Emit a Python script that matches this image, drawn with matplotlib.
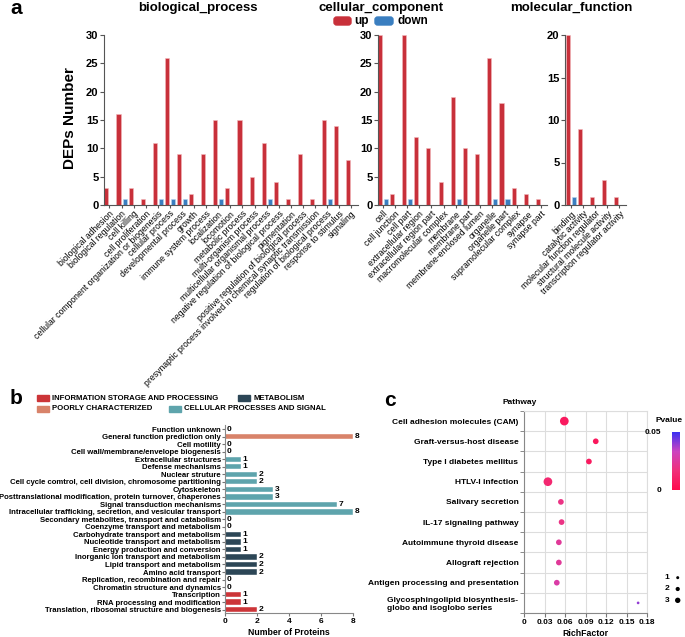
import numpy as np
import matplotlib
matplotlib.use("Agg")
import matplotlib.pyplot as plt
from matplotlib.colors import LinearSegmentedColormap
from matplotlib.patches import Rectangle, FancyBboxPatch

plt.rcParams['font.family'] = ['Liberation Sans', 'DejaVu Sans']

# ---- data: panel a (GO) ----
bp_labels = ["biological adhesion", "biological regulation", "cell killing", "cell proliferation",
             "cellular component organization or biogenesis", "cellular process",
             "developmental process", "growth", "immune system process", "localization",
             "locomotion", "metabolic process", "multi-organism process",
             "multicellular organismal process", "negative regulation of biological process",
             "pigmentation", "positive regulation of biological process",
             "presynaptic process involved in chemical synaptic transmission",
             "regulation of biological process", "response to stimulus", "signaling"]
bp_up = [3, 16, 3, 1, 11, 26, 9, 2, 9, 15, 3, 15, 5, 11, 4, 1, 9, 1, 15, 14, 8]
bp_down = [0, 1, 0, 0, 1, 1, 1, 0, 0, 1, 0, 0, 0, 1, 0, 0, 0, 0, 1, 0, 0]

cc_labels = ["cell", "cell junction", "cell part", "extracellular region",
             "extracellular region part", "macromolecular complex", "membrane", "membrane part",
             "membrane-enclosed lumen", "organelle", "organelle part", "supramolecular complex",
             "synapse", "synapse part"]
cc_up = [30, 2, 30, 12, 10, 4, 19, 10, 9, 26, 18, 3, 2, 1]
cc_down = [1, 0, 1, 0, 0, 0, 1, 0, 0, 1, 1, 0, 0, 0]

mf_labels = ["binding", "catalytic activity", "molecular function regulator",
             "structural molecule activity", "transcription regulator activity"]
mf_up = [20, 9, 1, 3, 1]
mf_down = [1, 0, 0, 0, 0]

# ---- data: panel b (KOG) ----
kog_labels = ["Function unknown", "General function prediction only", "Cell motility",
              "Cell wall/membrane/envelope biogenesis", "Extracellular structures",
              "Defense mechanisms", "Nuclear struture",
              "Cell cycle comtrol, cell division, chromosome partitioning", "Cytoskeleton",
              "Posttranslational modification, protein turnover, chaperones",
              "Signal transduction mechanisms",
              "Intracellular trafficking, secretion, and vesicular transport",
              "Secondary metabolites, transport and catabolism",
              "Coenzyme transport and metabolism", "Carbohydrate transport and metabolism",
              "Nucleotide transport and metabolism", "Energy production and conversion",
              "Inorganic ion transport and metabolism", "Lipid transport and metabolism",
              "Amino acid transport", "Replication, recombination and repair",
              "Chromatin structure and dynamics", "Transcription",
              "RNA processing and modification", "Translation, ribosomal structure and biogenesis"]
kog_values = [0, 8, 0, 0, 1, 1, 2, 2, 3, 3, 7, 8, 0, 0, 1, 1, 1, 2, 2, 2, 0, 0, 1, 1, 2]
kog_groups = ["P", "P", "C", "C", "C", "C", "C", "C", "C", "C", "C", "C",
              "M", "M", "M", "M", "M", "M", "M", "M", "I", "I", "I", "I", "I"]
group_names = {"I": "INFORMATION STORAGE AND PROCESSING", "M": "METABOLISM",
               "P": "POORLY CHARACTERIZED", "C": "CELLULAR PROCESSES AND SIGNAL"}
group_colors = {"I": "#cc3538", "M": "#2c4656", "P": "#d8836a", "C": "#5ea4ac"}

# ---- data: panel c (KEGG) ----
path_labels = ["Cell adhesion molecules (CAM)", "Graft-versus-host disease",
               "Type I diabetes mellitus", "HTLV-I infection", "Salivary secretion",
               "IL-17 signaling pathway", "Autoimmune thyroid disease", "Allograft rejection",
               "Antigen processing and presentation",
               "Glycosphingolipid biosynthesis-\nglobo and isoglobo series"]
rich = [0.059, 0.105, 0.095, 0.035, 0.054, 0.055, 0.051, 0.051, 0.048, 0.167]
counts = [3, 2, 2, 3, 2, 2, 2, 2, 2, 1]
pvals = [0.007, 0.006, 0.007, 0.013, 0.019, 0.019, 0.024, 0.024, 0.027, 0.040]

W, H = 685, 637
fig = plt.figure(figsize=(W / 100, H / 100), dpi=100)


def box(l, t, r, b):
    return [l / W, 1 - b / H, (r - l) / W, (b - t) / H]


red = "#c8303a"
blue = "#3a7ec0"

# ---------------- panel a ----------------
panels = [
    (box(104, 35, 358, 205), bp_labels, bp_up, bp_down, 30, (-0.45, 20.55)),
    (box(378, 35, 547, 205), cc_labels, cc_up, cc_down, 30, (-0.39, 13.49)),
    (box(565, 35, 626, 205), mf_labels, mf_up, mf_down, 20, (-0.52, 4.55)),
]
for pos, labels, up, down, ymax, xl in panels:
    ax = fig.add_axes(pos)
    x = np.arange(len(labels))
    ax.bar(x - 0.25, up, 0.34, color=red, edgecolor="#f2b8bc", linewidth=0.4)
    ax.bar(x + 0.25, down, 0.34, color=blue, edgecolor="#b8d4ef", linewidth=0.4)
    ax.set_xlim(*xl)
    ax.set_ylim(0, ymax)
    ax.set_yticks(np.arange(0, ymax + 1, 5))
    ax.set_xticks(x)
    ax.set_xticklabels(labels, rotation=45, ha="right", rotation_mode="anchor", fontsize=6.2)
    for s in ["top", "right"]:
        ax.spines[s].set_visible(False)
    for s in ["left", "bottom"]:
        ax.spines[s].set_color("#555555")
        ax.spines[s].set_linewidth(0.8)
    ax.tick_params(axis="y", labelsize=8, length=3, pad=1, color="#555555")
    ax.tick_params(axis="x", length=2, pad=1, color="#555555")
    for t in ax.get_yticklabels():
        t.set_fontweight("bold")

for tx, txt in [(198, "biological_process"), (381, "cellular_component"),
                (571, "molecular_function")]:
    fig.text(tx / W, 1 - 8 / H, txt, ha="center", va="center", fontsize=9.5,
             fontweight="bold")
fig.text(70 / W, 1 - 118 / H, "DEPs Number", rotation=90, ha="center", va="center",
         fontsize=11, fontweight="bold")
fig.text(10 / W, 1 - 9 / H, "a", ha="left", va="center", fontsize=15, fontweight="bold")

# up/down legend
fig.patches.append(FancyBboxPatch((334 / W, 1 - 25 / H), 17 / W, 8 / H,
                                  boxstyle="round,pad=0,rounding_size=0.004",
                                  transform=fig.transFigure, color=red))
fig.text(354 / W, 1 - 21 / H, "up", ha="left", va="center", fontsize=8.5, fontweight="bold")
fig.patches.append(FancyBboxPatch((375 / W, 1 - 25 / H), 18 / W, 8 / H,
                                  boxstyle="round,pad=0,rounding_size=0.004",
                                  transform=fig.transFigure, color=blue))
fig.text(397 / W, 1 - 21 / H, "down", ha="left", va="center", fontsize=8.5, fontweight="bold")

# ---------------- panel b ----------------
fig.text(10 / W, 1 - 398 / H, "b", ha="left", va="center", fontsize=15, fontweight="bold")
leg_items = [("I", 37, 398), ("M", 238, 398), ("P", 37, 409), ("C", 169, 409)]
for g, lx, ly in leg_items:
    fig.patches.append(Rectangle((lx / W, 1 - (ly + 3) / H), 12 / W, 6 / H,
                                 transform=fig.transFigure, color=group_colors[g]))
    fig.text((lx + 15) / W, 1 - ly / H, group_names[g], ha="left", va="center",
             fontsize=5.6, fontweight="bold")

axb = fig.add_axes(box(225, 425, 353, 613))
yb = np.arange(len(kog_labels))
axb.barh(yb, kog_values, height=0.72, color=[group_colors[g] for g in kog_groups],
         edgecolor="white", linewidth=0.3)
for yi, v in zip(yb, kog_values):
    axb.text(v + 0.12, yi, str(v), ha="left", va="center", fontsize=6, fontweight="bold")
axb.set_ylim(24.45, -0.55)
axb.set_xlim(0, 8)
axb.set_yticks(yb)
axb.set_yticklabels(kog_labels, fontsize=5.6, fontweight="bold")
axb.set_xticks([0, 2, 4, 6, 8])
axb.tick_params(axis="y", length=2, pad=1, color="#777777")
axb.tick_params(axis="x", labelsize=6, length=2, pad=1.5, color="#777777")
for t in axb.get_xticklabels():
    t.set_fontweight("bold")
for s in ["top", "right"]:
    axb.spines[s].set_visible(False)
for s in ["left", "bottom"]:
    axb.spines[s].set_color("#888888")
    axb.spines[s].set_linewidth(0.8)
axb.set_xlabel("Number of Proteins", fontsize=6.3, fontweight="bold", labelpad=2)

# ---------------- panel c ----------------
fig.text(390 / W, 1 - 400 / H, "c", ha="center", va="center", fontsize=15, fontweight="bold")
fig.text(520 / W, 1 - 402 / H, "Pathway", ha="center", va="center", fontsize=6,
         fontweight="bold")

cmap = LinearSegmentedColormap.from_list("pv", ["#ff0a4c", "#f0307a", "#cc44c0", "#3a30f2"])
axc = fig.add_axes(box(524, 411, 647, 613))
yc = np.arange(len(path_labels))
sizes = [(0.72 * (3 * c - 0.3)) ** 2 for c in counts]
axc.scatter(rich, yc, s=sizes, c=pvals, cmap=cmap, vmin=0, vmax=0.05, zorder=3,
            linewidths=0)
axc.set_xlim(0, 0.18)
axc.set_ylim(9.5, -0.5)
xt = [0, 0.03, 0.06, 0.09, 0.12, 0.15, 0.18]
axc.set_xticks(xt)
axc.set_xticklabels(["0"] + [f"{v:.2f}" for v in xt[1:]], fontsize=6, fontweight="bold")
axc.set_yticks(yc)
axc.set_yticklabels(path_labels, fontsize=6, fontweight="bold", multialignment="left")
axc.set_yticks(np.arange(-0.5, 10, 1), minor=True)
axc.tick_params(axis="y", which="major", length=0, pad=4)
axc.tick_params(axis="y", which="minor", length=3, color="#777777")
axc.tick_params(axis="x", length=3, pad=1.5, color="#777777")
axc.grid(True, axis="x", which="major", color="#dddddd", linewidth=0.8)
axc.grid(True, axis="y", which="minor", color="#dddddd", linewidth=0.8)
axc.set_axisbelow(True)
for s in ["top", "right"]:
    axc.spines[s].set_color("#dddddd")
for s in ["left", "bottom"]:
    axc.spines[s].set_color("#888888")
axc.set_xlabel("RichFactor", fontsize=6.3, fontweight="bold", labelpad=2)

# colorbar
cax = fig.add_axes(box(672, 432, 680, 490))
sm = plt.cm.ScalarMappable(cmap=cmap, norm=plt.Normalize(0, 0.05))
cb = fig.colorbar(sm, cax=cax)
cb.outline.set_visible(False)
cb.set_ticks([0, 0.05])
cb.set_ticklabels(["0", "0.05"])
cax.yaxis.set_ticks_position("left")
cax.tick_params(length=0, labelsize=6, pad=8)
for t in cax.get_yticklabels():
    t.set_fontweight("bold")
fig.text(683 / W, 1 - 420 / H, "Pvalue", ha="right", va="center", fontsize=6,
         fontweight="bold")

# size legend
axs = fig.add_axes(box(662, 572, 684, 606))
leg_counts = [1, 2, 3]
axs.scatter([1, 1, 1], leg_counts, s=[(0.72 * (1.2 * c + 1.8)) ** 2 for c in leg_counts],
            color="black", linewidths=0)
for c in leg_counts:
    axs.text(0.3, c, str(c), ha="center", va="center", fontsize=6, fontweight="bold")
axs.set_xlim(0, 1.4)
axs.set_ylim(3.5, 0.5)
axs.axis("off")

fig.savefig("out.png", dpi=100)
